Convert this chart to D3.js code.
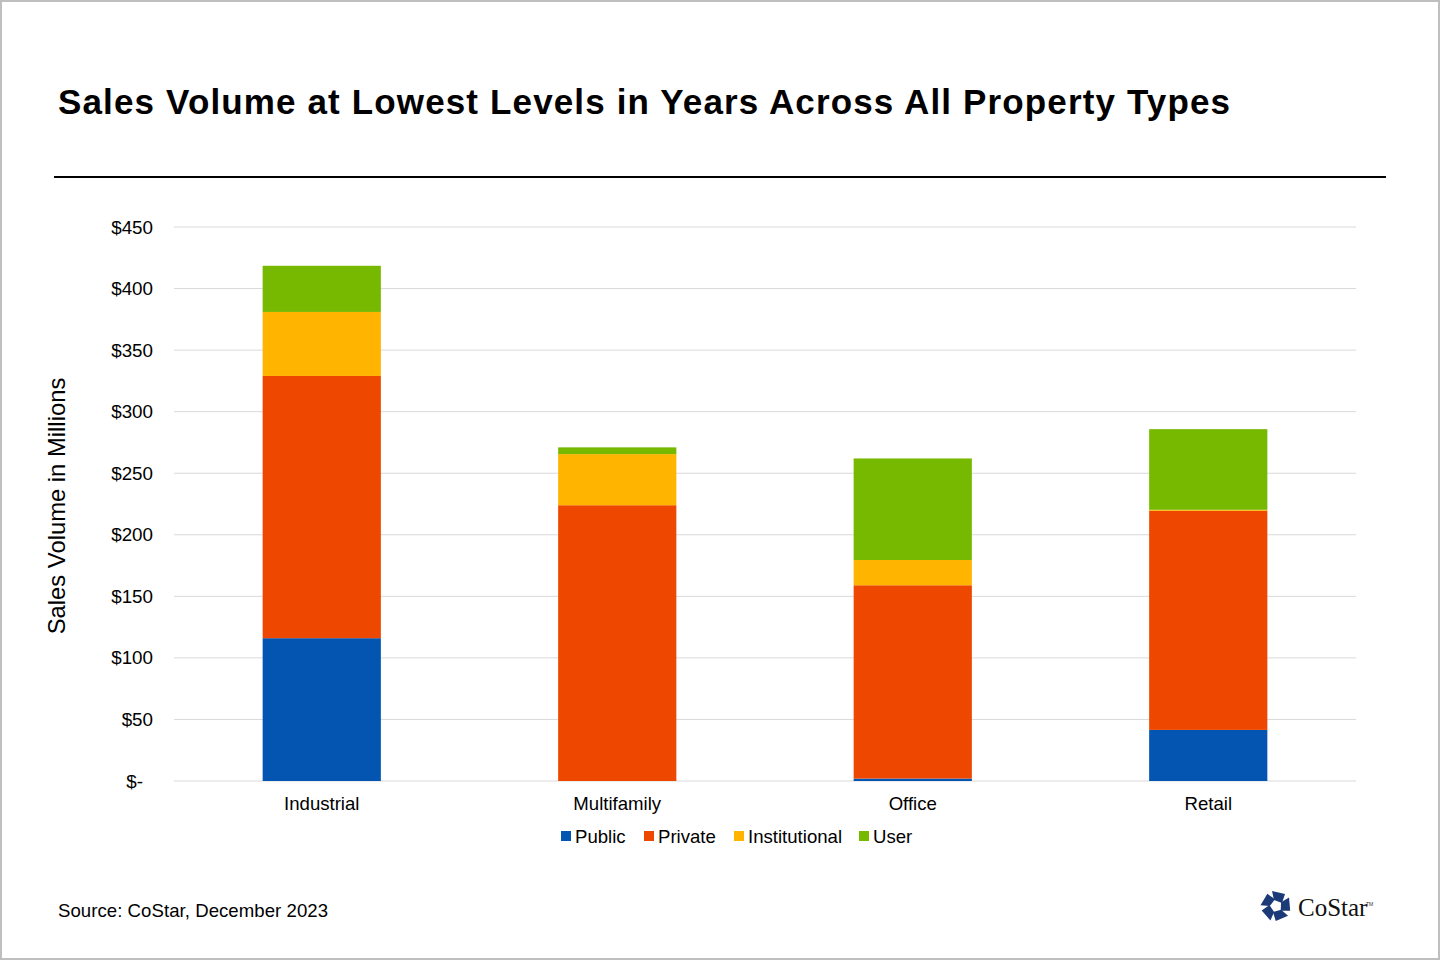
<!DOCTYPE html>
<html>
<head>
<meta charset="utf-8">
<script src="https://cdn.jsdelivr.net/npm/d3@7"></script>
<style>
  body { margin: 0; background: #fff; }
  svg { display: block; font-family: "Liberation Sans", Arial, sans-serif; }
</style>
</head>
<body>
<script>
// DATA
const categories = ["Industrial", "Multifamily", "Office", "Retail"];
const seriesNames = ["Public", "Private", "Institutional", "User"];
const publicVals = [116, 0, 2, 41.5];
const privateVals = [213, 224, 157, 178];
const institutionalVals = [52, 41.5, 20.5, 0.8];
const userVals = [37.5, 5.5, 82.5, 65.5];
const colors = ["#0455B1", "#EE4700", "#FFB400", "#76B900"];
const yTicks = [0, 50, 100, 150, 200, 250, 300, 350, 400, 450];

const W = 1440, H = 960;
const padL = 174, padR = 1356, padT = 227, padB = 781;

const rows = categories.map((c, i) => ({
  cat: c,
  Public: publicVals[i],
  Private: privateVals[i],
  Institutional: institutionalVals[i],
  User: userVals[i]
}));
const stacked = d3.stack().keys(seriesNames)(rows);

const svg = d3.select("body").append("svg")
  .attr("width", W)
  .attr("height", H);

// frame
svg.append("rect")
  .attr("x", 1).attr("y", 1)
  .attr("width", W - 2).attr("height", H - 2)
  .attr("fill", "#fff")
  .attr("stroke", "#bfbfbf")
  .attr("stroke-width", 2);

// title
svg.append("text")
  .text("Sales Volume at Lowest Levels in Years Across All Property Types")
  .attr("x", 58).attr("y", 114)
  .attr("font-size", 35)
  .attr("font-weight", "bold")
  .attr("textLength", 1172)
  .attr("lengthAdjust", "spacing")
  .attr("fill", "#000");

svg.append("line")
  .attr("x1", 54).attr("x2", 1386)
  .attr("y1", 177).attr("y2", 177)
  .attr("stroke", "#000")
  .attr("stroke-width", 2);

// scales
const x = d3.scaleBand().domain(categories).range([padL, padR])
  .paddingInner(0.6).paddingOuter(0.3);
const y = d3.scaleLinear().domain([0, 450]).range([padB, padT]);

// grid
svg.append("g")
  .selectAll("line")
  .data(yTicks)
  .join("line")
  .attr("x1", padL).attr("x2", padR)
  .attr("y1", d => y(d)).attr("y2", d => y(d))
  .attr("stroke", "#d9d9d9")
  .attr("stroke-width", 1);

// y axis
const yAxis = d3.axisLeft(y)
  .tickValues(yTicks)
  .tickSize(0)
  .tickPadding(0)
  .tickFormat(d => d === 0 ? "$-" : "$" + d);

const yg = svg.append("g")
  .attr("transform", `translate(153,0)`)
  .call(yAxis);
yg.select(".domain").remove();
yg.selectAll("text")
  .attr("font-size", 18.8)
  .attr("fill", "#000")
  .attr("font-family", "Liberation Sans, Arial, sans-serif")
  .attr("dx", d => d === 0 ? -10 : 0);

// bars
svg.append("g")
  .selectAll("g")
  .data(stacked)
  .join("g")
  .attr("fill", (d, i) => colors[i])
  .selectAll("rect")
  .data(d => d)
  .join("rect")
  .attr("x", d => x(d.data.cat))
  .attr("width", x.bandwidth())
  .attr("y", d => y(d[1]))
  .attr("height", d => y(d[0]) - y(d[1]));

// x axis
const xAxis = d3.axisBottom(x).tickSize(0).tickPadding(0);
const xg = svg.append("g")
  .attr("transform", `translate(0,${padB + 29})`)
  .call(xAxis);
xg.select(".domain").remove();
xg.selectAll("text")
  .attr("dy", 0)
  .attr("font-size", 18.6)
  .attr("fill", "#000")
  .attr("font-family", "Liberation Sans, Arial, sans-serif");

// y label
svg.append("text")
  .text("Sales Volume in Millions")
  .attr("transform", `translate(65,506) rotate(-90)`)
  .attr("text-anchor", "middle")
  .attr("font-size", 23.8)
  .attr("fill", "#000");

// legend
const legendX = [561, 644, 734, 859];
const legend = svg.append("g");
seriesNames.forEach((s, i) => {
  legend.append("rect")
    .attr("x", legendX[i]).attr("y", 831)
    .attr("width", 10).attr("height", 10)
    .attr("fill", colors[i]);
  legend.append("text")
    .text(s)
    .attr("x", legendX[i] + 14).attr("y", 843)
    .attr("font-size", 18.6)
    .attr("fill", "#000");
});

// source
svg.append("text")
  .text("Source: CoStar, December 2023")
  .attr("x", 58).attr("y", 917)
  .attr("font-size", 18.6)
  .attr("textLength", 270)
  .attr("lengthAdjust", "spacing")
  .attr("fill", "#000");

// logo
const logo = svg.append("g").attr("transform", "translate(1276,906)");
const petal = "M-4,-15 L9,-12 L6,-3 L-2,-6 Z";
d3.range(5).forEach(i => {
  logo.append("path")
    .attr("d", petal)
    .attr("fill", "#1c3a78")
    .attr("transform", `rotate(${i * 72})`);
});
svg.append("text")
  .text("CoStar")
  .attr("x", 1298).attr("y", 916)
  .attr("font-family", "Liberation Serif, Times New Roman, serif")
  .attr("font-size", 25)
  .attr("fill", "#111");
svg.append("text")
  .text("TM")
  .attr("x", 1366).attr("y", 906)
  .attr("font-size", 5)
  .attr("fill", "#333");
</script>
</body>
</html>
